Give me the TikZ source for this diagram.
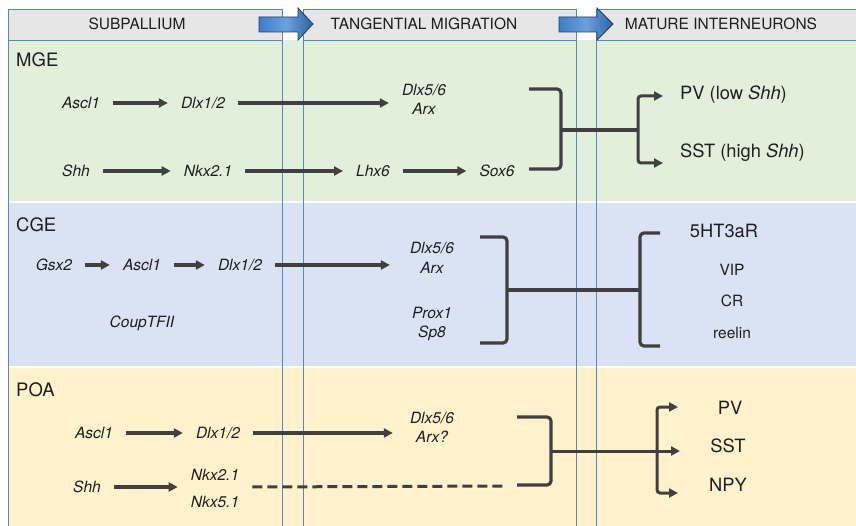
\documentclass[tikz,border=0pt]{standalone}
\usepackage{fontspec}
\setmainfont{TeX Gyre Heros}
\usetikzlibrary{arrows.meta,calc}

\definecolor{mgebg}{HTML}{E2EFDA}
\definecolor{cgebg}{HTML}{DAE3F3}
\definecolor{poabg}{HTML}{FFF2CC}
\definecolor{headbg}{HTML}{E7E6E7}
\definecolor{colline}{HTML}{5A86BC}
\definecolor{ink}{HTML}{404040}
\definecolor{txt}{HTML}{1E1E1E}
\definecolor{bluel}{HTML}{3D7DCA}
\definecolor{bluem}{HTML}{6CA1DC}
\definecolor{bluer}{HTML}{2B62A6}
\definecolor{blueedge}{HTML}{1F3D66}

\tikzset{
  gene/.style={font=\fontsize{15.5}{18}\selectfont\itshape, text=txt, inner xsep=13pt, inner ysep=0pt, text height=11pt, text depth=0pt},
  celltype/.style={font=\fontsize{18.3}{22}\selectfont, text=txt, inner sep=0pt, text height=13pt, text depth=0pt},
  subtype/.style={font=\fontsize{15.5}{18}\selectfont, text=txt, inner sep=0pt, text height=11pt, text depth=0pt},
  regname/.style={font=\fontsize{18.5}{22}\selectfont, text=txt, anchor=west, inner sep=0pt},
  headtxt/.style={font=\fontsize{15.5}{18}\selectfont, text=txt, inner sep=0pt},
  flowarr/.style={draw=ink, line width=3.4pt, -{Triangle[length=9pt,width=9pt]}},
  brk/.style={draw=ink, line width=3.2pt, rounded corners=4pt},
  forkarr/.style={draw=ink, line width=3pt, rounded corners=3pt, -{Triangle[length=9pt,width=9pt]}},
  guess/.style={draw=ink, line width=3pt, dash pattern=on 10pt off 5pt},
  colbox/.style={draw=colline, line width=0.9pt},
  migr/.style={draw=blueedge, line width=0.8pt, left color=bluel, right color=bluer, middle color=bluem},
}

\begin{document}
\begin{tikzpicture}[x=1pt,y=-1pt]
\clip (0,0) rectangle (856,526);
\fill[white] (0,0) rectangle (856,526);

% rows
\fill[mgebg] (8,40) rectangle (856,201);
\fill[cgebg] (8,203) rectangle (856,366);
\fill[poabg] (8,368) rectangle (856,526);

% columns and headers
\foreach \xa/\xb in {8/282,303/576,596/870}{
  \fill[headbg] (\xa,9) rectangle (\xb,40);
  \draw[colbox] (\xa,9) rectangle (\xb,540);
  \draw[colbox] (\xa,40) -- (\xb,40);
}
\node[headtxt] (hSub) at (137,24) {SUBPALLIUM};
\node[headtxt] (hTan) at (424,24) {TANGENTIAL MIGRATION};
\node[headtxt] (hMat) at (721,24) {MATURE INTERNEURONS};

\shadedraw[migr] (259,17) -- (298,17) -- (298,8) -- (313,24) -- (298,40) -- (298,32) -- (259,32) -- cycle;
\shadedraw[migr] (559,17) -- (597,17) -- (597,8) -- (613,24) -- (597,40) -- (597,32) -- (559,32) -- cycle;

% MGE
\node[regname] (mge) at (16,60) {MGE};
\node[gene] (mAscl) at (81,103) {Ascl1};
\node[gene] (mDlx) at (203,103) {Dlx1/2};
\node[gene] (mDlx56) at (424,90) {Dlx5/6};
\node[gene] (mArx) at (424,109) {Arx};
\node[gene] (mShh) at (76,171) {Shh};
\node[gene] (mNkx) at (208,171) {Nkx2.1};
\node[gene] (mLhx) at (373,171) {Lhx6};
\node[gene] (mSox) at (497,171) {Sox6};
\draw[flowarr] (mAscl) -- (mDlx);
\draw[flowarr] (mDlx) -- (mDlx -| mDlx56.west);
\draw[flowarr] (mShh) -- (mNkx);
\draw[flowarr] (mNkx) -- (mLhx);
\draw[flowarr] (mLhx) -- (mSox);
\draw[brk] (529,89) -- (561,89) -- (561,169) -- (529,169);
\coordinate (mStem) at (561,130);
\coordinate (mFork) at (638,130);
\draw[brk] (mStem) -- (mFork);
\node[celltype,anchor=west] (mPV) at (680,93) {PV (low \textit{Shh})};
\node[celltype,anchor=west] (mSST) at (680,151) {SST (high \textit{Shh})};
\coordinate (mPVtip) at (663,96);
\coordinate (mSSTtip) at (663,163);
\draw[forkarr] (mFork) |- (mPVtip);
\draw[forkarr] (mFork) |- (mSSTtip);

% CGE
\node[regname] (cge) at (16,225) {CGE};
\node[gene] (cGsx) at (54,265) {Gsx2};
\node[gene] (cAscl) at (142,265) {Ascl1};
\node[gene] (cDlx) at (240,265) {Dlx1/2};
\node[gene] (cCoup) at (142,322) {CoupTFII};
\node[gene] (cDlx56) at (432,248) {Dlx5/6};
\node[gene] (cArx) at (432,268) {Arx};
\node[gene] (cProx) at (432,313) {Prox1};
\node[gene] (cSp) at (432,332) {Sp8};
\draw[flowarr] (cGsx) -- (cAscl);
\draw[flowarr] (cAscl) -- (cDlx);
\draw[flowarr] (cDlx) -- ([xshift=-7pt]cDlx -| cDlx56.west);
\draw[brk] (480,237) -- (507,237) -- (507,343) -- (480,343);
\coordinate (cStem) at (507,290);
\coordinate (cJoin) at (640,290);
\draw[brk] (cStem) -- (cJoin);
\draw[brk] (660,233) -- (640,233) -- (640,346) -- (660,346);
\node[celltype] (cHT) at (724,231) {5HT3aR};
\node[subtype] (cVIP) at (732,270) {VIP};
\node[subtype] (cCR) at (732,301) {CR};
\node[subtype] (cReel) at (732,333) {reelin};

% POA
\node[regname] (poa) at (16,390) {POA};
\node[gene] (pAscl) at (94,433) {Ascl1};
\node[gene] (pDlx) at (218,433) {Dlx1/2};
\node[gene] (pDlx56) at (432,418) {Dlx5/6};
\node[gene] (pArx) at (432,437) {Arx?};
\node[gene] (pShh) at (87,487) {Shh};
\node[gene] (pNkx2) at (215,475) {Nkx2.1};
\node[gene] (pNkx5) at (215,502) {Nkx5.1};
\draw[flowarr] (pAscl) -- (pDlx);
\draw[flowarr] (pDlx) -- ([xshift=-4pt]pDlx -| pDlx56.west);
\draw[flowarr] (pShh) -- (pShh -| pNkx2.west);
\coordinate (pDashEnd) at (507,486);
\draw[guess] (pShh -| pNkx2.east) -- (pDashEnd);
\draw[brk] (517,417) -- (551,417) -- (551,485) -- (517,485);
\coordinate (pStem) at (551,451);
\coordinate (pFork) at (657,451);
\node[celltype] (pPV) at (730,408) {PV};
\node[celltype] (pSST) at (728,446) {SST};
\node[celltype] (pNPY) at (728,485) {NPY};
\coordinate (pPVtip) at (678,407);
\coordinate (pSSTtip) at (680,451);
\coordinate (pNPYtip) at (678,493);
\draw[forkarr] (pStem) -- (pSSTtip);
\draw[forkarr] (pFork) |- (pPVtip);
\draw[forkarr] (pFork) |- (pNPYtip);
\end{tikzpicture}
\end{document}
